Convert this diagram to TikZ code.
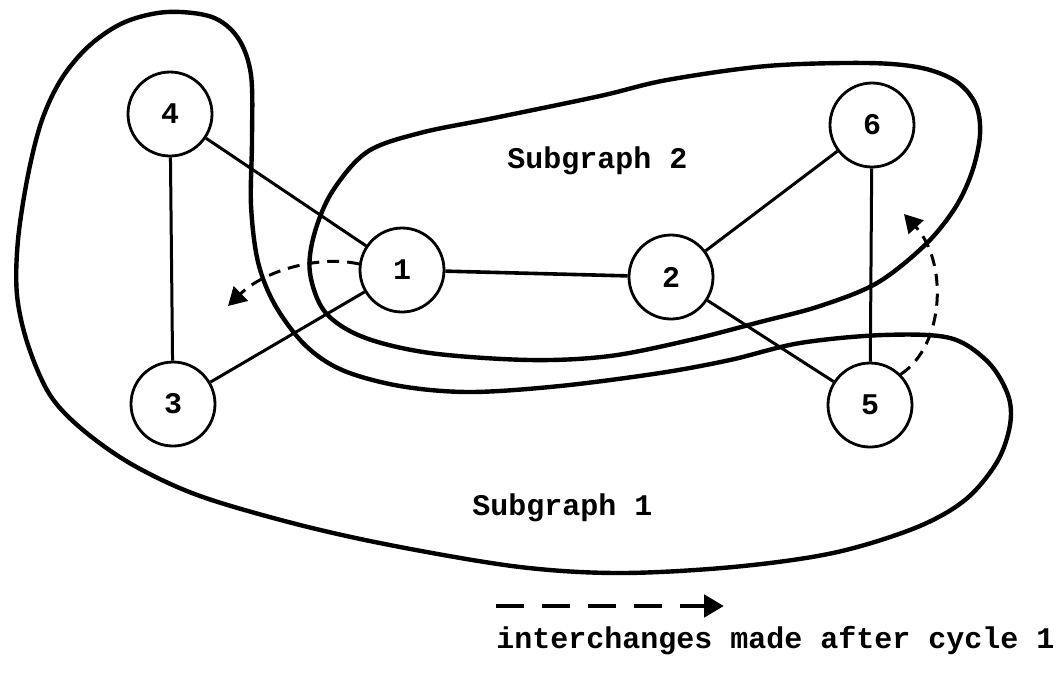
\documentclass[tikz,border=0pt]{standalone}
\usepackage{fontspec}
\setmonofont{Liberation Mono}
\usetikzlibrary{arrows.meta}
\begin{document}
\begin{tikzpicture}[x=0.5pt,y=-0.5pt,
  tt/.style={font=\ttfamily\bfseries\fontsize{15}{15}\selectfont},
  vertex/.style={tt,circle,draw,line width=1.4pt,minimum size=42pt,inner sep=0pt},
  edge/.style={line width=1.5pt},
  outline/.style={line width=2.2pt,line join=round},
  swap/.style={line width=1.5pt,dash pattern=on 6pt off 4pt,
    -{Triangle[length=9pt,width=10pt]}},
  legendarrow/.style={line width=2.4pt,dash pattern=on 14pt off 9pt,
    -{Triangle[length=10pt,width=11pt]}},
  caption/.style={tt,anchor=base west,inner sep=0pt}]
\useasboundingbox (0,0) rectangle (1060,677);
\fill[white] (0,0) rectangle (1060,677);

% vertices
\node[vertex] (n1) at (402,270) {1};
\node[vertex] (n2) at (671,277) {2};
\node[vertex] (n3) at (173,404) {3};
\node[vertex] (n4) at (170,114) {4};
\node[vertex] (n5) at (870,405) {5};
\node[vertex] (n6) at (872,125) {6};

% edges
\draw[edge] (n4) -- (n3);
\draw[edge] (n4) -- (n1);
\draw[edge] (n1) -- (n3);
\draw[edge,line width=1.8pt] (n1) -- (n2);
\draw[edge] (n2) -- (n6);
\draw[edge] (n2) -- (n5);
\draw[edge] (n6) -- (n5);

% boundary of subgraph 1: nodes 4, 3, 5
\draw[outline] plot[smooth cycle,tension=0.55] coordinates {
  (167,12) (212,17) (238,38) (251,75) (252,140) (251,205) (258,262)
  (275,305) (305,345) (342,370) (400,386) (470,392) (560,386) (660,373)
  (730,360) (800,343) (883,335) (950,338) (988,362) (1008,395) (1010,425)
  (997,462) (965,500) (915,528) (833,553) (733,567) (620,573) (520,567)
  (400,547) (300,525) (200,496) (133,465) (83,430) (50,395) (28,345)
  (17,295) (18,240) (28,175) (42,120) (62,78) (90,45) (125,22)};

% boundary of subgraph 2: nodes 1, 2, 6
\draw[outline] plot[smooth cycle,tension=0.55] coordinates {
  (867,63) (922,68) (957,82) (976,105) (980,135) (972,172) (955,208)
  (925,245) (877,283) (820,306) (760,322) (690,340) (610,356) (530,360)
  (430,353) (363,337) (325,312) (310,273) (314,235) (332,192) (367,152)
  (420,133) (494,118) (600,96) (667,80) (767,66)};

% interchanges
\coordinate (t1) at (228,306);
\coordinate (t5) at (904,214);
\draw[swap] (n1.172) .. controls (320,255) and (265,270) .. (t1);
\draw[swap] (n5.45) .. controls (945,345) and (948,262) .. (t5);

% captions
\node[caption] (s2) at (507,168) {Subgraph 2};
\node[caption] (s1) at (472,515) {Subgraph 1};
\coordinate (la) at (496,606);
\coordinate (lb) at (724,606);
\draw[legendarrow] (la) -- (lb);
\node[caption] (leg) at (496,648) {interchanges made after cycle 1};
\end{tikzpicture}
\end{document}
